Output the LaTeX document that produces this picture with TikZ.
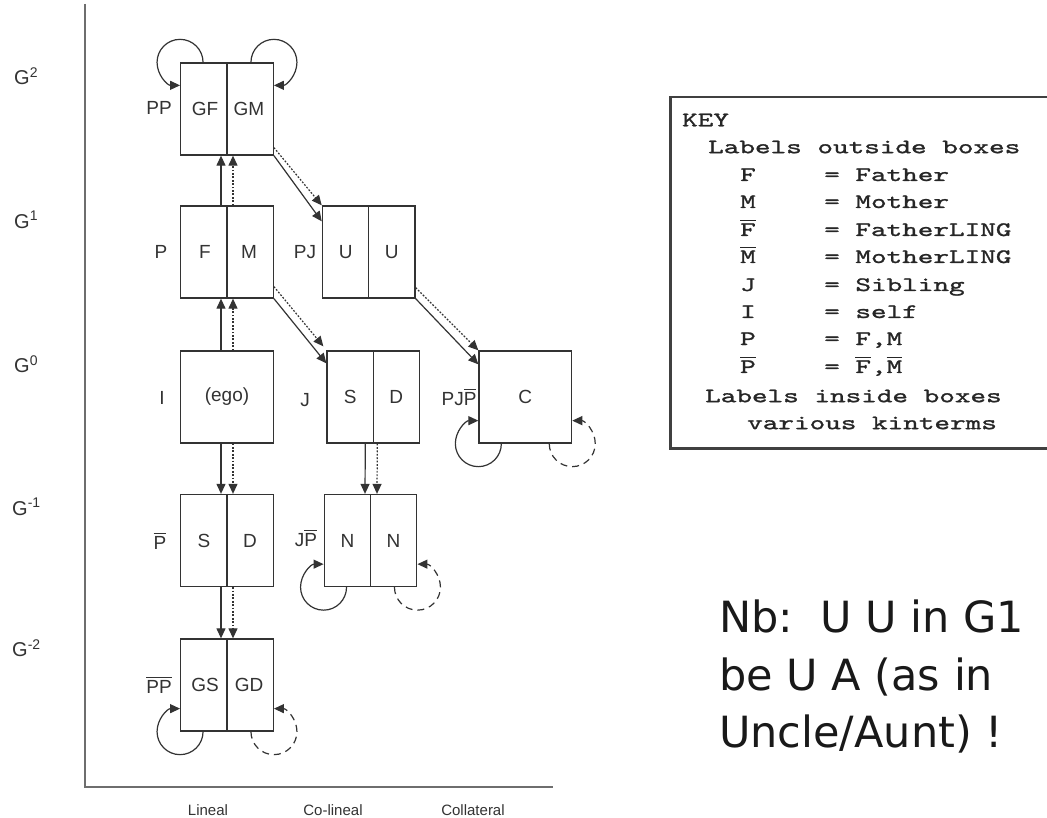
\documentclass[tikz,border=0pt]{standalone}
\usepackage{fontspec}
\setmainfont{Liberation Sans}
\newfontfamily\keyfont{lmmono10-regular.otf}[FakeStretch=1.45,FakeBold=1.2]
\newfontfamily\notefont{DejaVu Sans}
\usetikzlibrary{arrows.meta}
\definecolor{ink}{HTML}{333333}
\definecolor{axisgray}{HTML}{6E6E6E}
% bar over a letter, drawn as a rule
\newcommand\ob[1]{\vbox{\hrule height 1.2pt\kern 2.2pt\hbox{#1}}}
\begin{document}
\begin{tikzpicture}[x=1pt,y=-1pt,
  box/.style={draw=ink, line width=1.3pt, minimum width=92.6pt, minimum height=92pt, inner sep=0pt},
  divider/.style={draw=ink, line width=1.3pt},
  lbl/.style={text=ink, font=\fontsize{19}{22}\selectfont, inner sep=0pt},
  gen/.style={text=ink, font=\fontsize{20}{24}\selectfont, inner sep=0pt, anchor=west},
  axlbl/.style={text=ink, font=\fontsize{15}{18}\selectfont, inner sep=0pt},
  tip/.style={-{Triangle[length=10pt,width=9pt]}},
  solidarr/.style={draw=ink, line width=1.2pt, tip},
  dotarr/.style={draw=ink, line width=1.2pt, dash pattern=on 1.8pt off 1.6pt, tip},
  loopsolid/.style={draw=ink, line width=1.2pt, tip},
  loopdash/.style={draw=ink, line width=1.2pt, dash pattern=on 7pt off 5pt, tip},
  keyline/.style={font=\keyfont\fontsize{20.5}{24}\selectfont, text=black!85, inner sep=0pt, anchor=west},
  note/.style={font=\notefont\fontsize{43}{50}\selectfont, text=black!90, inner sep=0pt, anchor=base west}]

\useasboundingbox (0,0) rectangle (1047,818);
\fill[white] (0,0) rectangle (1047,818);
\clip (0,0) rectangle (1047,818);

% axes
\coordinate (ytop) at (85,4);
\coordinate (orig) at (85,787);
\coordinate (xend) at (553,787);
\draw[axisgray, line width=2pt] (ytop) -- (orig) -- (xend);

% generation labels
\node[gen] (g2)  at (14,76)  {G\textsuperscript{2}};
\node[gen] (g1)  at (14,220) {G\textsuperscript{1}};
\node[gen] (g0)  at (14,364) {G\textsuperscript{0}};
\node[gen] (gm1) at (12,507) {G\textsuperscript{-1}};
\node[gen] (gm2) at (12,648) {G\textsuperscript{-2}};

% column labels
\node[axlbl] (lin) at (208,810) {Lineal};
\node[axlbl] (colin) at (333,810) {Co-lineal};
\node[axlbl] (coll) at (473,810) {Collateral};

% kin boxes
\node[box] (gp)  at (227,109)   {};
\node[box] (par) at (227,252)   {};
\node[box] (pj)  at (368.7,252) {};
\node[box] (ego) at (227,397)   {};
\node[box] (sib) at (373.3,397) {};
\node[box] (cou) at (525.3,397) {};
\node[box] (chd) at (227,540.5) {};
\node[box] (nep) at (370.5,540.5) {};
\node[box] (gch) at (227,685)   {};

\foreach \b in {gp,par,pj,sib,chd,nep,gch}
  \draw[divider] (\b.north) -- (\b.south);

% kinterms inside the boxes
\node[lbl] (tGF) at ([xshift=-22pt]gp.center)  {GF};
\node[lbl] (tGM) at ([xshift=22pt]gp.center)   {GM};
\node[lbl] (tF)  at ([xshift=-22pt]par.center) {F};
\node[lbl] (tM)  at ([xshift=22pt]par.center)  {M};
\node[lbl] (tU1) at ([xshift=-23pt]pj.center)  {U};
\node[lbl] (tU2) at ([xshift=23pt]pj.center)   {U};
\node[lbl] (tego) at (ego.center) {(ego)};
\node[lbl] (tS1) at ([xshift=-23pt]sib.center) {S};
\node[lbl] (tD1) at ([xshift=23pt]sib.center)  {D};
\node[lbl] (tC)  at (cou.center) {C};
\node[lbl] (tS2) at ([xshift=-23pt]chd.center) {S};
\node[lbl] (tD2) at ([xshift=23pt]chd.center)  {D};
\node[lbl] (tN1) at ([xshift=-23pt]nep.center) {N};
\node[lbl] (tN2) at ([xshift=23pt]nep.center)  {N};
\node[lbl] (tGS) at ([xshift=-22pt]gch.center) {GS};
\node[lbl] (tGD) at ([xshift=22pt]gch.center)  {GD};

% kin-type labels outside the boxes
\node[lbl] (kPP)   at (159,108) {PP};
\node[lbl] (kP)    at (161,252) {P};
\node[lbl] (kPJ)   at (305,252) {PJ};
\node[lbl] (kI)    at (162,398) {I};
\node[lbl] (kJ)    at (305,400) {J};
\node[lbl, anchor=base] (kPb)  at (160,549) {\ob{P}};
\node[lbl, anchor=base] (kJPb) at (306,546) {J\ob{P}};
\node[lbl, anchor=base] (kPPb) at (159,693) {\ob{P}\ob{P}};
\node[lbl, anchor=base] (kPJPb) at (459,405) {PJ\ob{P}};

% ascending links
\draw[solidarr] ([xshift=-6pt]par.north) -- ([xshift=-6pt]gp.south);
\draw[dotarr]   ([xshift=6pt]par.north)  -- ([xshift=6pt]gp.south);
\draw[solidarr] ([xshift=-6pt]ego.north) -- ([xshift=-6pt]par.south);
\draw[dotarr]   ([xshift=6pt]ego.north)  -- ([xshift=6pt]par.south);

% descending links
\draw[solidarr] ([xshift=-6pt]ego.south) -- ([xshift=-6pt]chd.north);
\draw[dotarr]   ([xshift=6pt]ego.south)  -- ([xshift=6pt]chd.north);
\draw[solidarr] ([xshift=-6pt]chd.south) -- ([xshift=-6pt]gch.north);
\draw[dotarr]   ([xshift=6pt]chd.south)  -- ([xshift=6pt]gch.north);
\draw[solidarr] ([xshift=-8pt]sib.south) -- ([xshift=-5.5pt]nep.north);
\draw[dotarr]   ([xshift=4pt]sib.south)  -- ([xshift=6.5pt]nep.north);

% collateral links
\draw[solidarr] (gp.south east) -- ([yshift=-16pt]pj.north west);
\draw[dotarr]   ([yshift=8pt]gp.south east) -- (pj.north west);
\draw[solidarr] (par.south east) -- ([yshift=-13pt]sib.north west);
\draw[dotarr]   ([yshift=12pt]par.south east) -- ([shift={(-3pt,4pt)}]sib.north west);
\draw[solidarr] (pj.south east) -- ([yshift=-14pt]cou.north west);
\draw[dotarr]   ([yshift=11pt]pj.south east) -- (cou.north west);

% self loops
\draw[loopsolid] ([xshift=23pt]gp.north west) arc[start angle=0, end angle=270, radius=23pt];
\draw[loopsolid] ([xshift=-23pt]gp.north east) arc[start angle=180, end angle=-90, radius=23pt];
\foreach \b in {cou,nep,gch}{
  \draw[loopsolid] ([xshift=23pt]\b.south west) arc[start angle=0, end angle=-270, radius=23pt];
  \draw[loopdash]  ([xshift=-23pt]\b.south east) arc[start angle=180, end angle=450, radius=23pt];
}

% key
\node[draw=black!75, line width=2.5pt, minimum width=385pt, minimum height=351pt, anchor=north west, inner sep=0pt] (key) at (669,96) {};
\node[keyline] (k0) at (682,120) {KEY};
\node[keyline] (k1) at (708,147) {Labels outside boxes};
\foreach \y/\s/\t in {175/F/Father, 202/M/Mother, 230/\ob{F}/FatherLING, 257/\ob{M}/MotherLING,
                      285/J/Sibling, 312/I/self, 339/P/{F,M}, 367/\ob{P}/{\ob{F},\ob{M}}}{
  \node[keyline, anchor=base] at (748,\y+6) {\s};
  \node[keyline, anchor=base west] at (824,\y+6) {= \t};
}
\node[keyline] (k10) at (705,396) {Labels inside boxes};
\node[keyline] (k11) at (747,423) {various kinterms};

% note
\node[note] (n1) at (719,632) {Nb:\ \ U U in G1};
\node[note] (n2) at (719,690) {be U A (as in};
\node[note] (n3) at (719,747) {Uncle/Aunt) !};
\end{tikzpicture}
\end{document}
